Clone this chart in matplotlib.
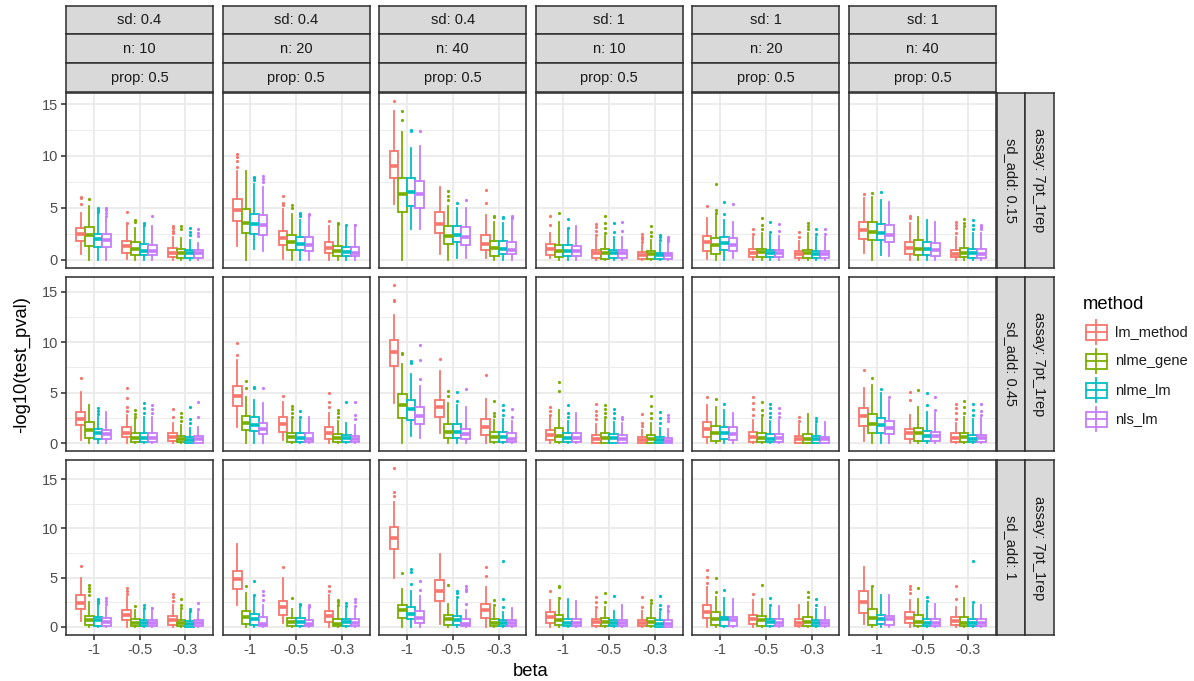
import numpy as np
import matplotlib.pyplot as plt
from matplotlib.patches import Rectangle

plt.rcParams['font.family'] = ['Liberation Sans', 'DejaVu Sans']

# facet levels
sd_vals = ['0.4', '0.4', '0.4', '1', '1', '1']
n_vals = ['10', '20', '40', '10', '20', '40']
prop_vals = ['0.5'] * 6
sd_add_vals = ['0.15', '0.45', '1']
assay_vals = ['7pt_1rep'] * 3
beta_labels = ['-1', '-0.5', '-0.3']
methods = ['lm_method', 'nlme_gene', 'nlme_lm', 'nls_lm']
colors = ['#F8766D', '#7CAE00', '#00BFC4', '#C77CFF']

# box statistics: [sd_add row][column][beta*4 + method]
lo_w = [
    [[0.54, 0, 0, 0, 0.06, 0, 0, 0, 0, 0, 0, 0],
     [1.3, 0, 1.0, 0.8, 0.1, 0, 0, 0, 0, 0, 0, 0],
     [5.4, 0, 2.9, 2.9, 0.57, 0, 0.16, 0.16, 0.16, 0, 0, 0],
     [0.16, 0, 0, 0, 0, 0, 0, 0, 0, 0, 0, 0],
     [0.1, 0, 0, 0.16, 0, 0, 0, 0, 0, 0, 0, 0],
     [0.64, 0, 0.48, 0.38, 0, 0, 0, 0, 0, 0, 0, 0]],
    [[0.33, 0, 0, 0, 0, 0, 0, 0, 0, 0, 0, 0],
     [1.65, 0, 0.07, 0, 0.33, 0, 0, 0, 0, 0, 0, 0],
     [4.0, 0, 0.76, 0.56, 1.0, 0, 0, 0, 0, 0, 0, 0],
     [0, 0, 0, 0, 0, 0, 0, 0, 0, 0, 0, 0],
     [0, 0, 0, 0, 0, 0, 0, 0, 0, 0, 0, 0],
     [0.26, 0, 0, 0, 0, 0, 0, 0, 0, 0, 0, 0]],
    [[0.57, 0, 0, 0, 0, 0, 0, 0, 0, 0, 0, 0],
     [2.26, 0, 0, 0, 0.4, 0, 0, 0, 0, 0, 0, 0],
     [4.95, 0, 0, 0, 0.27, 0, 0, 0, 0, 0, 0, 0],
     [0, 0, 0, 0, 0, 0, 0, 0, 0, 0, 0, 0],
     [0, 0, 0, 0, 0, 0, 0, 0, 0, 0, 0, 0],
     [0.27, 0, 0, 0, 0, 0, 0, 0, 0, 0, 0, 0]],
]
q1 = [
    [[1.76, 1.34, 1.21, 1.21, 0.64, 0.41, 0.41, 0.41, 0.26, 0.19, 0.13, 0.19],
     [3.7, 2.6, 2.5, 2.4, 1.37, 0.95, 0.95, 0.83, 0.64, 0.38, 0.32, 0.32],
     [7.9, 4.6, 5.2, 5.0, 2.6, 1.53, 1.66, 1.44, 0.9, 0.38, 0.51, 0.51],
     [0.45, 0.26, 0.38, 0.38, 0.13, 0.1, 0.13, 0.13, 0.1, 0.1, 0.1, 0.1],
     [0.86, 0.54, 0.9, 0.8, 0.22, 0.22, 0.22, 0.22, 0.16, 0.16, 0.13, 0.16],
     [1.98, 1.92, 1.92, 1.72, 0.51, 0.45, 0.45, 0.38, 0.22, 0.22, 0.16, 0.16]],
    [[1.81, 0.56, 0.4, 0.4, 0.6, 0.16, 0.16, 0.16, 0.2, 0.1, 0.07, 0.07],
     [3.69, 1.32, 1.22, 0.9, 1.15, 0.16, 0.16, 0.16, 0.4, 0.16, 0.16, 0.16],
     [7.65, 2.5, 2.3, 1.9, 2.64, 0.5, 0.56, 0.4, 0.86, 0.1, 0.1, 0.1],
     [0.33, 0.1, 0.1, 0.16, 0.07, 0.07, 0.07, 0.07, 0.03, 0.03, 0.03, 0.03],
     [0.66, 0.26, 0.4, 0.33, 0.13, 0.1, 0.1, 0.1, 0.07, 0.07, 0.07, 0.07],
     [1.71, 1.0, 1.05, 0.9, 0.4, 0.26, 0.2, 0.2, 0.1, 0.1, 0.1, 0.1]],
    [[1.82, 0.24, 0.1, 0.1, 0.67, 0.07, 0.07, 0.07, 0.24, 0.07, 0.03, 0.07],
     [3.81, 0.34, 0.2, 0.07, 1.25, 0.07, 0.07, 0.07, 0.5, 0.07, 0.07, 0.07],
     [7.92, 0.88, 0.78, 0.4, 2.63, 0.24, 0.17, 0.07, 0.94, 0.07, 0.07, 0.07],
     [0.44, 0.2, 0.07, 0.07, 0.07, 0.07, 0.07, 0.07, 0.07, 0.07, 0.03, 0.03],
     [0.91, 0.17, 0.1, 0.1, 0.27, 0.1, 0.1, 0.1, 0.07, 0.07, 0.07, 0.07],
     [1.45, 0.24, 0.27, 0.24, 0.4, 0.07, 0.1, 0.1, 0.17, 0.07, 0.07, 0.07]],
]
med = [
    [[2.49, 2.33, 2.0, 1.9, 1.34, 1.0, 0.83, 0.86, 0.67, 0.64, 0.64, 0.64],
     [4.8, 3.5, 3.4, 3.3, 2.1, 1.7, 1.5, 1.4, 1.1, 0.8, 0.73, 0.67],
     [9.0, 6.3, 6.5, 6.3, 3.45, 2.3, 2.36, 2.2, 1.53, 1.15, 1.05, 0.96],
     [1.02, 0.83, 0.8, 0.86, 0.64, 0.64, 0.6, 0.64, 0.45, 0.5, 0.41, 0.41],
     [1.66, 1.44, 1.6, 1.44, 0.64, 0.7, 0.64, 0.64, 0.51, 0.64, 0.51, 0.57],
     [2.87, 2.7, 2.6, 2.4, 1.09, 1.0, 1.0, 0.9, 0.57, 0.64, 0.64, 0.57]],
    [[2.4, 1.32, 1.0, 0.9, 1.05, 0.53, 0.56, 0.53, 0.6, 0.43, 0.36, 0.4],
     [4.68, 1.98, 1.81, 1.38, 1.9, 0.6, 0.56, 0.46, 1.0, 0.5, 0.5, 0.4],
     [9.07, 3.82, 3.36, 2.7, 3.63, 1.15, 1.15, 0.9, 1.58, 0.6, 0.6, 0.46],
     [0.82, 0.76, 0.5, 0.5, 0.43, 0.53, 0.5, 0.4, 0.33, 0.4, 0.3, 0.27],
     [1.45, 1.0, 1.0, 0.92, 0.66, 0.56, 0.43, 0.5, 0.43, 0.46, 0.4, 0.4],
     [2.74, 1.9, 1.81, 1.48, 1.0, 1.0, 0.76, 0.76, 0.5, 0.6, 0.46, 0.5]],
    [[2.46, 0.67, 0.67, 0.5, 1.21, 0.44, 0.37, 0.4, 0.67, 0.4, 0.3, 0.37],
     [4.89, 1.0, 0.78, 0.34, 2.0, 0.5, 0.5, 0.34, 1.11, 0.34, 0.47, 0.4],
     [9.0, 1.69, 1.28, 0.91, 3.6, 0.78, 0.67, 0.34, 1.69, 0.44, 0.4, 0.4],
     [1.0, 0.67, 0.44, 0.44, 0.5, 0.5, 0.4, 0.4, 0.4, 0.5, 0.3, 0.3],
     [1.52, 0.78, 0.78, 0.67, 0.78, 0.67, 0.5, 0.44, 0.44, 0.5, 0.4, 0.4],
     [2.53, 0.94, 0.78, 0.84, 0.94, 0.5, 0.44, 0.44, 0.57, 0.44, 0.4, 0.4]],
]
q3 = [
    [[3.03, 3.13, 2.49, 2.43, 1.76, 1.7, 1.47, 1.4, 1.09, 1.0, 0.9, 0.9],
     [5.8, 4.9, 4.4, 4.3, 2.78, 2.4, 2.2, 2.15, 1.66, 1.28, 1.2, 1.2],
     [10.5, 7.9, 7.9, 7.6, 4.56, 3.2, 3.2, 3.1, 2.36, 1.75, 1.75, 1.66],
     [1.5, 1.37, 1.37, 1.34, 0.9, 1.0, 0.93, 0.93, 0.73, 0.83, 0.67, 0.67],
     [2.3, 2.07, 2.17, 2.07, 1.0, 1.05, 0.96, 0.96, 0.86, 0.96, 0.86, 0.86],
     [3.6, 3.6, 3.4, 3.3, 1.66, 1.85, 1.66, 1.56, 0.96, 1.09, 1.0, 1.0]],
    [[3.13, 2.07, 1.42, 1.32, 1.65, 1.0, 1.0, 1.0, 1.0, 0.76, 0.66, 0.73],
     [5.67, 2.74, 2.57, 1.98, 2.57, 1.0, 1.05, 1.0, 1.65, 0.9, 0.82, 0.73],
     [10.2, 4.85, 4.29, 3.56, 4.29, 1.9, 1.88, 1.45, 2.37, 1.15, 1.1, 1.0],
     [1.29, 1.48, 1.05, 1.05, 0.79, 1.0, 0.92, 0.79, 0.6, 0.86, 0.6, 0.53],
     [2.07, 1.71, 1.58, 1.58, 1.12, 1.0, 0.9, 0.9, 0.76, 0.9, 0.7, 0.66],
     [3.46, 2.87, 2.47, 2.2, 1.38, 1.48, 1.19, 1.12, 1.05, 1.0, 0.86, 0.86]],
    [[3.2, 1.11, 1.0, 0.88, 1.69, 0.8, 0.7, 0.74, 1.11, 0.67, 0.57, 0.67],
     [5.73, 1.62, 1.35, 1.0, 2.63, 0.94, 0.91, 0.74, 1.58, 0.84, 0.84, 0.78],
     [10.1, 2.26, 2.02, 1.58, 4.72, 1.21, 1.11, 0.78, 2.3, 0.84, 0.67, 0.67],
     [1.52, 1.18, 0.8, 0.8, 0.8, 0.91, 0.74, 0.74, 0.74, 0.88, 0.67, 0.67],
     [2.26, 1.52, 1.0, 1.0, 1.21, 1.08, 0.84, 0.84, 0.84, 1.0, 0.67, 0.67],
     [3.64, 1.79, 1.21, 1.11, 1.52, 1.18, 0.78, 0.78, 1.0, 1.0, 0.78, 0.78]],
]
hi_w = [
    [[4.5, 5.17, 4.4, 4.0, 3.35, 3.0, 3.2, 3.2, 2.2, 2.07, 1.9, 1.6],
     [8.5, 8.5, 7.3, 7.0, 4.85, 4.4, 3.8, 4.1, 3.2, 3.2, 3.2, 3.3],
     [14.3, 12.3, 10.8, 11.0, 7.0, 5.2, 5.0, 5.0, 4.3, 3.67, 3.5, 3.9],
     [2.55, 3.67, 2.9, 3.25, 2.1, 2.3, 2.2, 2.2, 1.45, 1.9, 1.6, 1.6],
     [4.0, 4.3, 3.83, 3.6, 2.2, 2.55, 2.4, 2.3, 1.75, 2.55, 2.2, 2.2],
     [5.9, 6.06, 5.74, 5.6, 3.5, 4.1, 3.77, 3.64, 2.2, 2.9, 2.55, 2.55]],
    [[5.1, 3.8, 2.64, 3.13, 2.8, 2.4, 2.6, 2.6, 2.0, 1.8, 1.5, 1.65],
     [8.2, 4.6, 4.3, 3.96, 4.1, 2.3, 2.3, 2.64, 3.0, 2.2, 2.0, 1.8],
     [12.7, 7.8, 6.86, 5.67, 7.19, 4.0, 3.8, 3.63, 4.35, 2.3, 2.4, 2.2],
     [2.6, 3.3, 2.2, 3.03, 1.9, 2.3, 2.1, 2.0, 1.3, 2.0, 1.5, 1.4],
     [3.8, 3.63, 3.3, 3.03, 2.3, 2.5, 2.2, 2.3, 1.9, 2.87, 1.9, 2.14],
     [5.5, 5.77, 4.95, 4.29, 2.8, 3.63, 3.13, 2.97, 2.0, 2.64, 2.4, 2.5]],
    [[4.95, 2.5, 2.2, 2.0, 3.0, 1.69, 1.69, 1.9, 2.2, 1.6, 1.4, 1.5],
     [8.43, 3.44, 3.1, 2.2, 4.95, 1.85, 2.0, 1.8, 3.2, 2.0, 1.8, 1.8],
     [12.7, 3.88, 3.64, 3.1, 7.4, 2.3, 2.7, 1.7, 4.04, 1.9, 1.5, 1.92],
     [2.7, 2.6, 2.86, 2.6, 1.7, 2.0, 1.6, 2.2, 1.6, 2.1, 1.5, 2.1],
     [4.04, 3.0, 2.97, 2.86, 2.7, 2.8, 1.9, 2.1, 2.2, 2.5, 1.85, 2.0],
     [6.07, 4.04, 3.2, 3.2, 2.7, 2.86, 2.36, 2.3, 2.0, 2.93, 2.2, 2.2]],
]
fliers = [
    [[[5.4, 5.9, 6.06], [5.8], [4.6, 4.8, 5.0], [4.2, 4.5, 4.8, 5.0], [3.5, 4.56], [3.6, 3.77],
      [3.3, 3.5], [4.18], [2.6, 2.8, 3.0, 3.2], [2.9, 3.2], [2.4, 2.7, 3.0], [2.3, 2.6, 2.9]],
     [[8.9, 9.5, 9.9, 10.2], [], [7.7, 7.9, 8.0], [7.5, 7.8, 8.1], [5.3, 5.5, 6.1], [5.0, 5.3],
      [4.2, 4.4, 4.5], [4.3, 4.4], [3.7], [3.4, 3.5], [3.3], [3.3]],
     [[15.3], [13.5, 14.3], [12.4, 12.5], [12.4], [], [5.75, 6.1, 6.6], [5.5], [5.75],
      [5.5, 6.7], [4.1, 4.2], [4.0, 4.1], [4.0, 4.1, 4.2]],
     [[3.3, 4.2], [4.5], [3.0, 3.9], [], [2.4, 2.8, 3.1, 3.4], [2.6, 3.0, 3.5, 4.2], [2.7, 3.5],
      [2.8, 3.6], [1.7, 2.0, 2.2, 2.46], [2.3, 2.7, 3.2], [1.9, 2.2, 2.4], [1.8, 2.0, 2.2]],
     [[5.2], [4.5, 4.8, 7.3], [4.4, 5.6], [5.4], [2.5, 2.9], [2.9, 3.3, 4.0], [2.7, 3.6],
      [2.8, 3.4], [2.2, 2.7], [2.9, 3.2, 3.5], [2.5, 2.9], [2.5, 2.9]],
     [[6.3], [6.4], [6.5], [], [4.0, 4.2], [], [], [], [2.6, 3.0, 3.3, 3.6], [3.2, 3.5, 3.9],
      [2.9, 3.3, 3.77], [2.9, 3.1, 3.35]]],
    [[[6.5], [], [2.9, 3.2, 3.46], [], [3.2, 3.6, 4.45, 5.44], [2.6, 2.9, 3.3], [3.0, 3.5, 3.96],
      [3.0, 3.4, 3.8], [2.6, 3.36], [2.2, 2.6, 2.97], [2.0, 2.4, 3.6], [2.6, 4.1]],
     [[8.74, 9.9], [5.44, 6.17], [5.44, 5.6], [5.44], [4.68], [2.6, 3.0, 3.4, 3.7], [2.6, 3.23],
      [], [3.6, 4.1, 4.95], [2.6, 3.0, 3.3], [4.05], [2.4, 2.8, 4.1]],
     [[14.1, 14.2, 15.7], [8.8, 8.97], [7.9, 8.18], [6.4, 8.24, 9.76], [8.34], [4.7, 5.2],
      [4.15, 5.08], [5.34], [6.73], [2.7, 3.0, 4.2], [2.8, 3.3, 3.8], [2.6, 3.36]],
     [[2.8, 3.2, 3.63], [5.2, 6.07], [2.6, 3.0, 3.76], [], [2.4, 2.8, 3.2, 3.9],
      [2.6, 3.0, 3.4, 3.76], [2.5, 3.0, 3.43], [2.4, 2.64], [1.7, 2.0, 2.9],
      [2.5, 3.0, 3.7, 4.7], [2.0, 2.5, 3.1], [2.2, 2.5, 2.77]],
     [[4.6], [4.35], [3.86], [], [2.8, 3.4, 4.0, 4.6], [2.8, 3.3, 4.05], [2.6, 3.0, 3.5, 3.86],
      [2.6, 3.0, 3.46], [2.2, 2.64], [], [2.2, 2.5], []],
     [[7.25], [6.43], [5.34], [4.6], [4.29, 5.04], [5.27], [3.8, 5.0], [3.3, 4.55],
      [2.4, 3.0, 3.5, 3.86], [3.0, 3.6, 4.2], [2.8, 3.3, 3.9], [2.8, 3.2, 3.86]]],
    [[[6.2], [3.2, 3.6, 4.0, 4.3], [2.4, 2.6, 2.8], [2.3, 2.6, 2.9], [3.3, 3.6, 3.98], [2.1],
      [1.9, 2.2], [1.9], [2.6, 3.0, 3.37], [1.9, 2.2, 2.83], [1.6, 1.85], [1.8, 2.46]],
     [[], [4.15], [3.2, 4.65], [2.7, 3.2, 3.7], [6.07], [2.97], [2.2, 2.36], [2.0, 2.2],
      [3.7, 4.2], [2.2, 2.5, 2.7], [2.1, 2.46], [2.1, 2.5, 2.8]],
     [[13.3, 13.7, 16.1], [5.5], [4.38, 5.6, 5.9], [3.77, 4.65], [], [4.28], [3.0, 3.4, 3.7],
      [2.3, 3.7, 3.9, 4.15], [5.2, 6.07], [2.2, 2.76], [2.0, 2.83, 6.67], []],
     [[3.6], [2.9, 4.04, 4.2], [], [], [2.0, 2.5, 3.0], [2.5, 3.44], [3.1], [], [2.0, 3.0],
      [2.4, 2.7], [1.8, 2.2, 3.1], [1.6, 2.1]],
     [[4.45, 5.06, 5.8], [3.5, 5.0], [3.8], [], [3.3], [4.28], [2.2, 2.93], [], [], [3.0, 3.54],
      [2.2, 2.86], []],
     [[], [4.2], [], [], [3.4, 3.88, 4.2], [3.98], [2.6, 3.0], [], [2.86, 4.18], [], [2.5, 6.74],
      []]],
]

W, H = 1194, 681
fig = plt.figure(figsize=(W / 100, H / 100), dpi=100)


def px(x0, y0, x1, y1):
    return [x0 / W, 1 - y1 / H, (x1 - x0) / W, (y1 - y0) / H]


border = '#333333'
grid_col = '#EBEBEB'
strip_bg = '#D9D9D9'
lw_line = 1.3
lw_border = 1.15
fs_small = 10.5
fs_title = 13.2

col_left = [66 + i * 156.6 for i in range(6)]
panel_w = 147.0
row_top = [93 + j * 183.7 for j in range(3)]
panel_h = 174.5
dodge = 0.75 / 4


def strip(x0, y0, x1, y1, label, rot=0):
    s = fig.add_axes(px(x0, y0, x1, y1))
    s.set_facecolor(strip_bg)
    s.set_xticks([])
    s.set_yticks([])
    for sp in s.spines.values():
        sp.set_color(border)
        sp.set_linewidth(lw_border)
    s.text(0.5, 0.5, label, transform=s.transAxes, ha='center', va='center',
           rotation=rot, fontsize=fs_small, color='#1A1A1A')


for r in range(3):
    vals = [v for c in range(6) for k in range(12)
            for v in [hi_w[r][c][k]] + fliers[r][c][k]]
    top = max(vals)
    bot = min(min(row) for row in lo_w[r])
    pad = 0.05 * (top - bot)
    for c in range(6):
        x0 = col_left[c]
        y0 = row_top[r]
        ax = fig.add_axes(px(x0, y0, x0 + panel_w, y0 + panel_h))
        ax.set_xlim(0.4, 3.6)
        ax.set_ylim(bot - pad, top + pad)
        ax.set_xticks([1, 2, 3])
        ax.set_yticks([0, 5, 10, 15])
        ax.set_yticks([2.5, 7.5, 12.5], minor=True)
        ax.set_xticks([], minor=True)
        ax.grid(which='major', color=grid_col, lw=lw_line)
        ax.grid(which='minor', axis='y', color=grid_col, lw=lw_line / 2)
        ax.set_axisbelow(True)
        for sp in ax.spines.values():
            sp.set_color(border)
            sp.set_linewidth(lw_border)
        ax.tick_params(which='both', color=border, width=lw_border, length=3.3,
                       labelsize=fs_small, labelcolor='#4D4D4D', pad=2.6)
        ax.tick_params(which='minor', length=0)
        if c == 0:
            ax.set_yticklabels(['0', '5', '10', '15'])
        else:
            ax.tick_params(axis='y', length=0, labelleft=False)
        if r == 2:
            ax.set_xticklabels(beta_labels)
        else:
            ax.tick_params(axis='x', length=0, labelbottom=False)

        for m in range(4):
            col = colors[m]
            idx = [b * 4 + m for b in range(3)]
            stats = [dict(whislo=lo_w[r][c][k], q1=q1[r][c][k], med=med[r][c][k],
                          q3=q3[r][c][k], whishi=hi_w[r][c][k], fliers=fliers[r][c][k])
                     for k in idx]
            pos = [b + 1 + (m - 1.5) * dodge for b in range(3)]
            ax.bxp(stats, positions=pos, widths=dodge, patch_artist=True,
                   showcaps=False, manage_ticks=False,
                   boxprops=dict(facecolor='white', edgecolor=col, lw=lw_line),
                   whiskerprops=dict(color=col, lw=lw_line),
                   medianprops=dict(color=col, lw=2 * lw_line, solid_capstyle='butt'),
                   flierprops=dict(marker='o', markersize=2.3, markerfacecolor=col,
                                   markeredgecolor='none'))

# top strips
for c in range(6):
    x0 = col_left[c]
    x1 = x0 + panel_w
    strip(x0, 5.5, x1, 34.3, 'sd: ' + sd_vals[c])
    strip(x0, 34.3, x1, 63.1, 'n: ' + n_vals[c])
    strip(x0, 63.1, x1, 92.0, 'prop: ' + prop_vals[c])

# right strips
for r in range(3):
    y0 = row_top[r]
    y1 = y0 + panel_h
    strip(996.5, y0, 1025, y1, 'sd_add: ' + sd_add_vals[r], rot=270)
    strip(1025, y0, 1053.5, y1, 'assay: ' + assay_vals[r], rot=270)

# axis titles
fig.text(22 / W, 1 - 364 / H, '-log10(test_pval)', rotation=90, ha='center',
         va='center', fontsize=fs_title)
fig.text(531 / W, 1 - 671 / H, 'beta', ha='center', va='center', fontsize=fs_title)

# legend
lg = fig.add_axes(px(1075, 285, 1194, 440))
lg.set_xlim(1075, 1194)
lg.set_ylim(440, 285)
lg.axis('off')
lg.text(1082.5, 304.5, 'method', ha='left', va='center', fontsize=fs_title)
for i, (name, col) in enumerate(zip(methods, colors)):
    yc = 332.3 + i * 29.0
    lg.plot([1096, 1096], [yc - 12, yc + 12], color=col, lw=lw_line)
    lg.add_patch(Rectangle((1085.5, yc - 7.3), 21, 14.6, facecolor='white',
                           edgecolor=col, lw=lw_line))
    lg.plot([1085.5, 1106.5], [yc, yc], color=col, lw=lw_line)
    lg.text(1115, yc, name, ha='left', va='center', fontsize=fs_small, color='#1A1A1A')

fig.savefig('out.png', dpi=100)
